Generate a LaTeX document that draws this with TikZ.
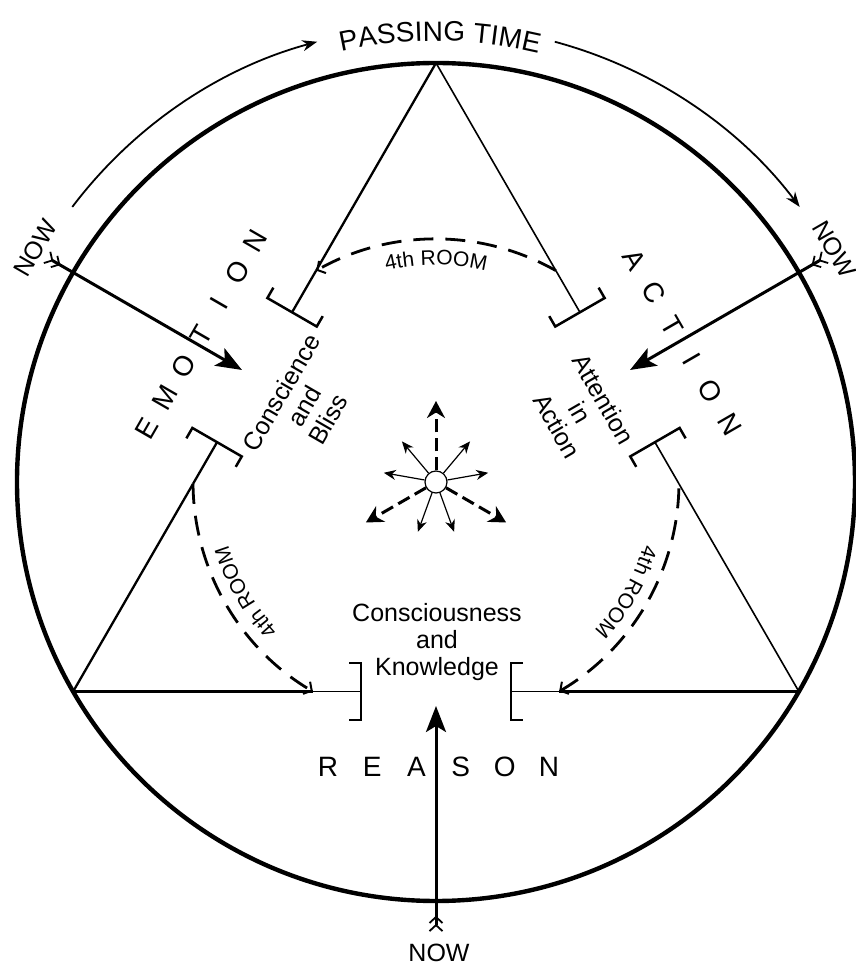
\documentclass[tikz,border=0pt]{standalone}
\usepackage{fontspec}
\setmainfont{Liberation Sans}
\usetikzlibrary{arrows.meta,calc,decorations.text}

\begin{document}
\begin{tikzpicture}[x=1pt,y=1pt,
  spaced/.style={font=\fontsize{28}{30}\selectfont,inner sep=0pt},
  nowlabel/.style={font=\fontsize{25}{27}\selectfont,inner sep=0pt},
  roomtext/.style={align=center,font=\fontsize{25}{27}\selectfont,inner sep=0pt},
  bracketline/.style={line width=2.5pt,line join=miter},
  roomarc/.style={line width=2.8pt,dash pattern=on 20pt off 12pt},
  roomend/.style={-{Straight Barb[length=6pt,width=14pt,line width=2pt]}},
  roomstart/.style={{Straight Barb[length=6pt,width=14pt,line width=2pt]}-},
  nowarrow/.style={line width=3pt,{Straight Barb[reversed,length=6pt,width=13pt,line width=1.8pt]Straight Barb[reversed,length=6pt,width=13pt,line width=1.8pt]}-{Stealth[length=26pt,width=20pt,inset=6pt]}},
  timearrow/.style={line width=1.8pt,-{Stealth[length=15pt,width=11pt]}},
  burstdash/.style={line width=3pt,dash pattern=on 13pt off 6pt,-{Stealth[length=17pt,width=18pt]}},
  burstthin/.style={line width=1.2pt,-{Stealth[length=12pt,width=10pt]}}]
  \useasboundingbox (-436,-483) rectangle (419,482);

  % outer circle and passing time
  \draw[line width=4.4pt] (0,0) circle (419);
  \draw[timearrow] (142.9:456) arc[start angle=142.9,end angle=105.1,radius=456];
  \draw[timearrow] (74.9:456) arc[start angle=74.9,end angle=37.1,radius=456];
  \path[decorate,decoration={text along path,text align=center,
      text={|\fontsize{28}{30}\selectfont|PASSING TIME}}]
    (114.5:441) arc[start angle=114.5,end angle=64.5,radius=441];

  % triangle sides, brackets, rooms and arrows in three turns
  \foreach \ang/\wout/\win/\tipstyle in {90/3.8/1.3/roomend,210/1.6/1.6/roomend,330/2.3/2.3/roomstart} {
    \begin{scope}[rotate=\ang-90]
      \draw[line width=\wout pt] (-362.9,-209.5) -- (-123.1,-209.5);
      \draw[line width=\win pt] (-123.1,-209.5) -- (-75,-209.5);
      \draw[line width=\wout pt] (362.9,-209.5) -- (123.1,-209.5);
      \draw[line width=\win pt] (123.1,-209.5) -- (75,-209.5);
      \draw[bracketline] (-87,-181) -- (-75,-181) -- (-75,-238) -- (-87,-238);
      \draw[bracketline] (87,-181) -- (75,-181) -- (75,-238) -- (87,-238);
      \draw[roomarc,\tipstyle] (60.45:243) arc[start angle=60.45,end angle=119.55,radius=243];
      \path[decorate,decoration={text along path,text align=center,
          text={|\fontsize{21}{23}\selectfont|4th ROOM}}]
        (116:217) arc[start angle=116,end angle=64,radius=217];
      \coordinate (tail\ang) at (0,-450);
      \coordinate (tip\ang) at (0,-224);
      \draw[nowarrow] (tail\ang) -- (tip\ang);
    \end{scope}
  }

  % centre burst
  \node[circle,draw,line width=1.2pt,fill=white,minimum size=22pt,inner sep=0pt] (hub) at (0,0) {};
  \foreach \a in {10,50,130,170,250,290}
    \draw[burstthin] (hub.\a) -- (\a:53);
  \foreach \a in {90,210,330}
    \draw[burstdash] (hub.\a) -- (\a:81);

  % room texts
  \node[roomtext,rotate=60] (bliss) at (150:152) {Conscience\\and\\Bliss};
  \node[roomtext,rotate=-60] (attention) at ($(30:160)+(-60:12)$) {Attention\\in\\Action};
  \node[roomtext] (knowledge) at (1,-160) {Consciousness\\and\\Knowledge};

  % spaced words
  \foreach \letter [count=\i] in {R,E,A,S,O,N}
    \node[spaced] (reason\i) at ({2.5+(\i-3.5)*44.2},-285) {\letter};
  \foreach \letter [count=\i] in {E,M,O,T,I,O,N}
    \node[spaced,rotate=60] (emotion\i) at ($(150:277)+(60:{(\i-4)*36+10})$) {\letter};
  \foreach \letter [count=\i] in {A,C,T,I,O,N}
    \node[spaced,rotate=-60] (action\i) at ($(30:283)+(-60:{(\i-3.5)*38+2})$) {\letter};

  % now labels
  \node[nowlabel,rotate=60] (nowleft) at (149.7:464) {NOW};
  \node[nowlabel,rotate=-60] (nowright) at (30.3:461) {NOW};
  \node[nowlabel] (nowbottom) at (3,-471) {NOW};
\end{tikzpicture}
\end{document}
